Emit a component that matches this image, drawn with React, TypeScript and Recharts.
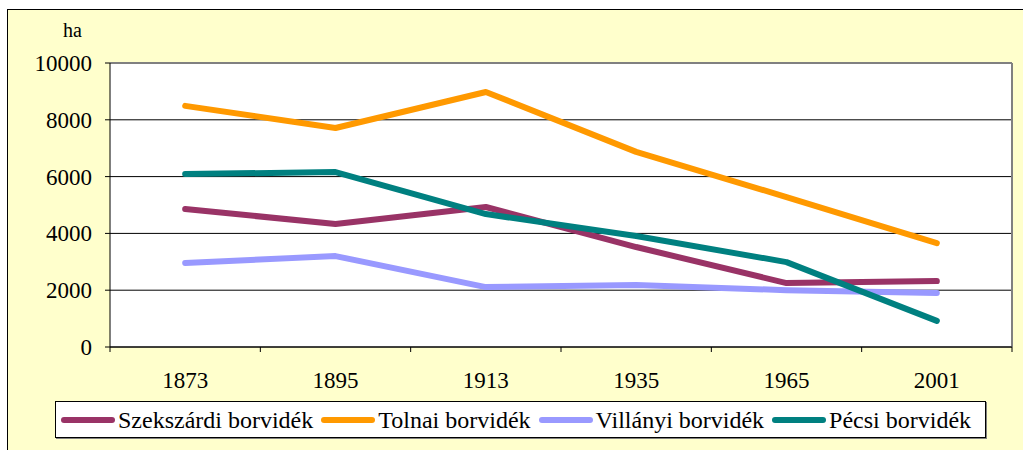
import { LineChart, Line, XAxis, YAxis, CartesianGrid, ReferenceLine } from 'recharts'

const years = ['1873', '1895', '1913', '1935', '1965', '2001']
const szekszardi = [4860, 4330, 4930, 3520, 2250, 2320]
const tolnai = [8490, 7710, 8980, 6870, 5280, 3660]
const villanyi = [2960, 3200, 2110, 2180, 2000, 1900]
const pecsi = [6090, 6160, 4680, 3910, 2990, 920]
const yTicks = [0, 2000, 4000, 6000, 8000, 10000]

const series = [
  { key: 'szekszardi', name: 'Szekszárdi borvidék', color: '#993366' },
  { key: 'tolnai', name: 'Tolnai borvidék', color: '#FF9900' },
  { key: 'villanyi', name: 'Villányi borvidék', color: '#9999FF' },
  { key: 'pecsi', name: 'Pécsi borvidék', color: '#008080' },
]

const data = years.map((y, i) => ({
  idx: i, year: y,
  szekszardi: szekszardi[i], tolnai: tolnai[i], villanyi: villanyi[i], pecsi: pecsi[i],
}))

// ticks on half values are the category boundaries, integers carry the labels
const xTicks = [-0.5, 0, 0.5, 1, 1.5, 2, 2.5, 3, 3.5, 4, 4.5, 5, 5.5]

const FONT = "'Liberation Serif'"

function XTick({ x, y, payload }: { x?: number; y?: number; payload?: { value: number } }) {
  const v = payload?.value ?? 0
  if (!Number.isInteger(v)) {
    return <line x1={x} x2={x} y1={y} y2={(y ?? 0) + 5} stroke="#000" strokeWidth={1} />
  }
  return (
    <text x={x} y={(y ?? 0) + 41} textAnchor="middle" style={{ fontFamily: FONT, fontSize: 23 }} fill="#000">
      {years[v]}
    </text>
  )
}

function YTick({ x, y, payload }: { x?: number; y?: number; payload?: { value: number } }) {
  return (
    <text x={x} y={(y ?? 0) + 8} textAnchor="end" style={{ fontFamily: FONT, fontSize: 23 }} fill="#000">
      {payload?.value}
    </text>
  )
}

export default function App() {
  return (
    <div style={{
      position: 'absolute', left: 7, top: 9, width: 1015, height: 440,
      background: '#FFFFCC', borderLeft: '1px solid #000', borderTop: '1px solid #000',
    }}>
      <div style={{ position: 'absolute', left: 55, top: 9, fontFamily: FONT, fontSize: 20, lineHeight: '22px', color: '#000' }}>ha</div>
      <LineChart width={1015} height={440} data={data}
        margin={{ top: 53, right: 11, left: 0, bottom: 0 }}>
        <CartesianGrid vertical={false} stroke="#000" fill="#fff" fillOpacity={1} />
        <XAxis dataKey="idx" type="number" domain={[-0.5, 5.5]} ticks={xTicks} interval={0}
          height={103} tickSize={0} tickMargin={0} tickLine={false}
          axisLine={{ stroke: '#000', strokeWidth: 1 }} tick={<XTick />} />
        <YAxis domain={[0, 10000]} ticks={yTicks} interval={0} width={102}
          tickSize={5} tickMargin={13}
          axisLine={{ stroke: '#000', strokeWidth: 1 }} tickLine={{ stroke: '#000' }}
          tick={<YTick />} />
        <ReferenceLine y={10000} stroke="#808080" strokeWidth={2} />
        <ReferenceLine x={5.5} stroke="#808080" strokeWidth={2} />
        {series.map(s => (
          <Line key={s.key} dataKey={s.key} name={s.name} type="linear" stroke={s.color}
            strokeWidth={6} strokeLinecap="round" strokeLinejoin="round"
            dot={false} activeDot={false} isAnimationActive={false} />
        ))}
      </LineChart>
      <div style={{
        position: 'absolute', left: 47, top: 391, width: 931, height: 37,
        background: '#fff', border: '1px solid #000', boxShadow: '1px 1px 0 #808080',
        display: 'flex', alignItems: 'center', boxSizing: 'border-box', paddingLeft: 5,
      }}>
        {series.map(s => (
          <div key={s.key} style={{ display: 'flex', alignItems: 'center', marginRight: 8 }}>
            <svg width={54} height={10} style={{ marginRight: 3 }}>
              <line x1={3} x2={51} y1={5} y2={5} stroke={s.color} strokeWidth={6} strokeLinecap="round" />
            </svg>
            <span style={{ fontFamily: FONT, fontSize: 24, lineHeight: '26px', color: '#000', whiteSpace: 'nowrap' }}>{s.name}</span>
          </div>
        ))}
      </div>
    </div>
  )
}
